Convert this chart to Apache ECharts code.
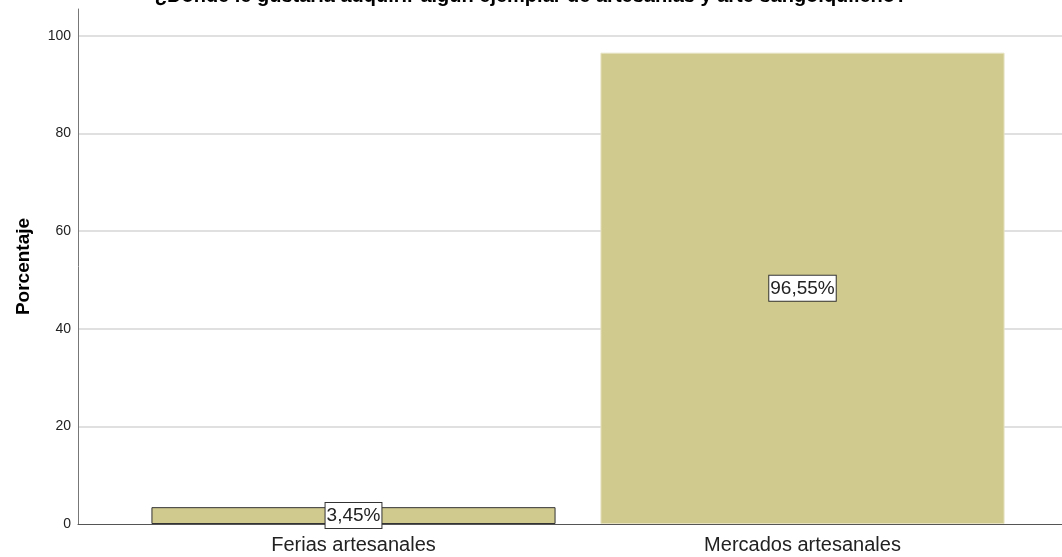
<!DOCTYPE html>
<html>
<head>
<meta charset="utf-8">
<style>
  html, body { margin: 0; padding: 0; background: #fff; }
  #chart { width: 1062px; height: 557px; }
</style>
<script src="https://cdn.jsdelivr.net/npm/echarts@6/dist/echarts.min.js"></script>
</head>
<body>
<div id="chart"></div>
<script>
// datos
const categories = ['Ferias artesanales', 'Mercados artesanales'];
const percentages = [3.45, 96.55];
const yTicks = [0, 20, 40, 60, 80, 100];

const chartTitle = '¿Dónde le gustaría adquirir algún ejemplar de artesanías y arte sangolquileño?';

const barColor = '#d0ca8f';
const font = 'Arial, "Liberation Sans", sans-serif';

const chart = echarts.init(document.getElementById('chart'));

const yMax = 105.5;

chart.setOption({
  animation: false,
  backgroundColor: '#fff',
  title: {
    text: chartTitle,
    left: 'center',
    top: -19,
    textStyle: { fontFamily: font, fontSize: 20, fontWeight: 'bold', color: '#000' },
  },
  grid: [
    /* eje y + líneas de cuadrícula */
    { left: 78, right: 0, top: 9, bottom: 33 },
    /* barras */
    { left: 129, right: 35, top: 9, bottom: 33 },
  ],
  xAxis: [
    {
      gridIndex: 0,
      type: 'value',
      min: 0,
      max: 1,
      axisLine: { show: true, onZero: false, lineStyle: { color: '#555', width: 1 } },
      axisTick: { show: false },
      axisLabel: { show: false },
      splitLine: { show: false },
    },
    {
      gridIndex: 1,
      type: 'category',
      data: categories,
      axisLine: { show: false },
      axisTick: { show: false },
      axisLabel: { fontFamily: font, fontSize: 20, color: '#222', margin: 11 },
    },
  ],
  yAxis: [
    {
      gridIndex: 0,
      type: 'value',
      min: 0,
      max: yMax,
      interval: 20,
      name: 'Porcentaje',
      nameLocation: 'middle',
      nameGap: 45,
      nameTextStyle: { fontFamily: font, fontSize: 19, fontWeight: 'bold', color: '#000' },
      axisLine: { show: true, lineStyle: { color: '#777', width: 1 } },
      axisTick: { show: false },
      axisLabel: {
        fontFamily: font,
        fontSize: 14,
        color: '#222',
        margin: 7,
        formatter: (v) => (yTicks.includes(v) ? String(v) : ''),
      },
      splitLine: { show: true, showMinLine: false, showMaxLine: false, lineStyle: { color: '#d6d6d6', width: 1.5 } },
    },
    {
      gridIndex: 1,
      type: 'value',
      min: 0,
      max: yMax,
      show: false,
    },
  ],
  series: [
    {
      type: 'bar',
      xAxisIndex: 1,
      yAxisIndex: 1,
      barWidth: '90%',
      data: percentages.map((v, i) => ({
        value: v,
        itemStyle: i === 0
          ? { color: barColor, borderColor: '#333', borderWidth: 1 }
          : { color: barColor, borderColor: '#e6e2c2', borderWidth: 1 },
      })),
      label: {
        show: true,
        position: 'inside',
        formatter: (p) => p.value.toFixed(2).replace('.', ',') + '%',
        fontFamily: font,
        fontSize: 19,
        color: '#222',
        backgroundColor: '#fff',
        borderColor: '#333',
        borderWidth: 1,
        padding: [4, 1, 2, 1],
      },
    },
  ],
});
</script>
</body>
</html>
